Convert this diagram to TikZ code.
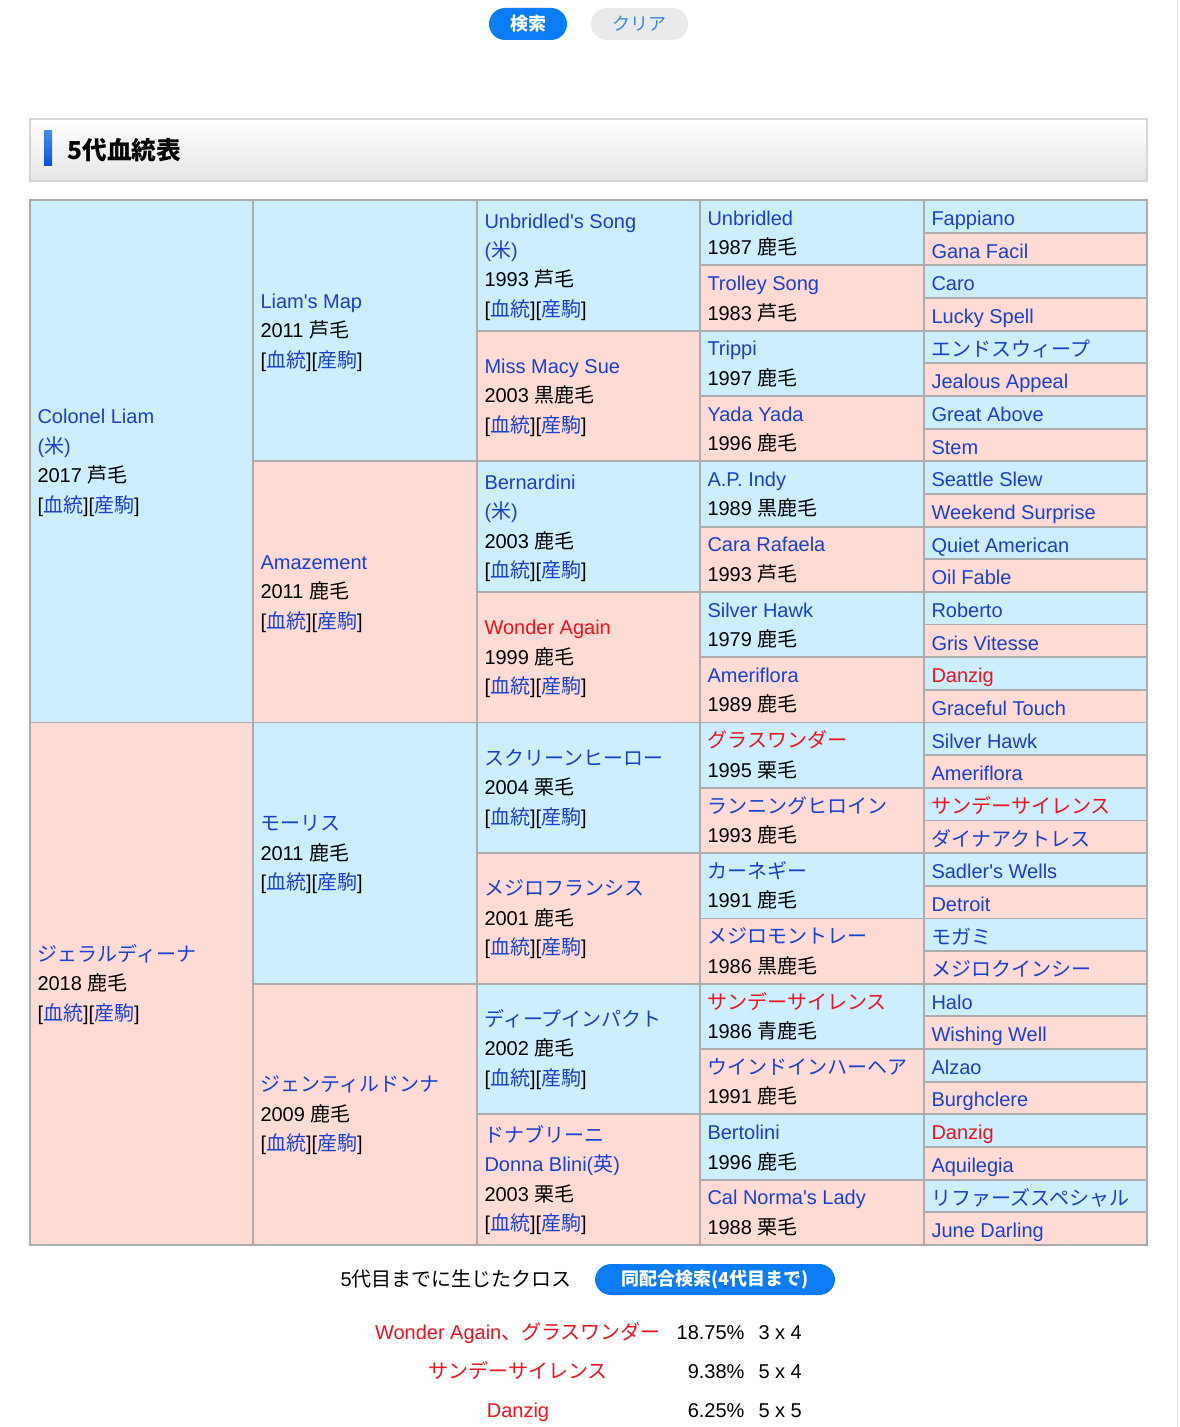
\documentclass[tikz,border=0pt]{standalone}
\usepackage{fontspec}
\setmainfont{Liberation Sans}
\newfontfamily\jpfont{Noto Sans CJK JP}

\definecolor{cellblue}{RGB}{204,238,255}
\definecolor{cellpink}{RGB}{255,219,214}
\definecolor{cellline}{RGB}{172,172,172}
\definecolor{linkblue}{RGB}{26,64,208}
\definecolor{crossred}{RGB}{240,18,28}
\definecolor{btnblue}{RGB}{12,124,246}
\definecolor{btngray}{RGB}{234,234,234}
\definecolor{btntext}{RGB}{52,136,232}
\definecolor{hdline}{RGB}{214,214,214}
\definecolor{hdgray}{RGB}{230,230,230}

\newcommand{\cstrut}{\rule[-2.5pt]{0pt}{19pt}}
\newcommand{\lstrut}{\rule[-2.5pt]{0pt}{16pt}}
\newcommand{\jp}[1]{{\jpfont #1}}
\newcommand{\bname}[1]{{\color{linkblue}#1}}
\newcommand{\rname}[1]{{\color{crossred}#1}}
\newcommand{\pedlinks}{[\bname{\jp{血統}}][\bname{\jp{産駒}}]\lstrut}
\newcommand{\apos}{\textquotesingle}

\tikzset{every picture/.style={line width=0.75pt}}
\tikzset{
  cell/.style={draw=cellline, line width=1.4pt},
  txt/.style={anchor=west, inner sep=0pt, align=left, font=\fontsize{15}{22.1}\selectfont},
  g5txt/.style={anchor=west, inner sep=0pt, text=linkblue, font=\fontsize{15}{18}\selectfont},
  crs/.style={inner sep=0pt, font=\fontsize{15}{18}\selectfont},
  pill/.style={rounded corners=12pt, inner sep=0pt, font=\jpfont\bfseries\fontsize{13.5}{16}\selectfont},
}

\begin{document}
\begin{tikzpicture}[x=0.75pt,y=0.75pt,yscale=-1,xscale=1]
\useasboundingbox (0,0) rectangle (1179,1427);
\fill [white] (0,0) rectangle (1179,1427);
\draw [color={rgb, 255:red, 234; green, 234; blue, 234 }] (1177.5,0) -- (1177.5,1427);

%Buttons
\node [pill, fill=btnblue, text=white, minimum width=58.5pt, minimum height=24pt] (search) at (528,24) {検索};
\node [pill, fill=btngray, text=btntext, minimum width=72.75pt, minimum height=24pt,
  font=\jpfont\fontsize{13.5}{16}\selectfont] (clear) at (639.5,24) {クリア};

%Shape: Heading bar
\shade [top color=white, bottom color=hdgray] (30,119) rectangle (1147,181);
\draw [hdline, line width=1.5pt] (30,119) rectangle (1147,181);
\shade [top color={rgb, 255:red, 70; green, 140; blue, 245 }, bottom color={rgb, 255:red, 10; green, 80; blue, 220 }] (44,131) rectangle (52,166);
% Text Node
\node [anchor=west, inner sep=0pt, font=\jpfont\bfseries\fontsize{18.5}{21}\selectfont] (title) at (67,150) {5代血統表};

%Shape: Pedigree cells
\foreach \n/\xa/\xb in {2/30/253, 4/253/477, 8/477/700, 16/700/924, 32/924/1147} {
  \foreach \i in {1,...,\n} {
    \pgfmathsetmacro{\ya}{200+(\i-1)*(1045/\n)}
    \pgfmathsetmacro{\yb}{200+\i*(1045/\n)}
    \ifodd\i \def\cf{cellblue}\else \def\cf{cellpink}\fi
    \draw [cell, fill=\cf] (\xa,\ya) rectangle (\xb,\yb);
  }
}

% Text Node
\node [txt] (g1-1) at (37,461.25) {\lstrut\bname{Colonel Liam}\\\bname{(\jp{米})}\\2017 \jp{芦毛}\\\pedlinks};
\node [txt] (g1-2) at (37,983.75) {\lstrut\bname{\jp{ジェラルディーナ}}\\2018 \jp{鹿毛}\\\pedlinks};

% Text Node
\node [txt] (g2-1) at (260,330.625) {\lstrut\bname{Liam\apos s Map}\\2011 \jp{芦毛}\\\pedlinks};
\node [txt] (g2-2) at (260,591.875) {\lstrut\bname{Amazement}\\2011 \jp{鹿毛}\\\pedlinks};
\node [txt] (g2-3) at (260,853.125) {\lstrut\bname{\jp{モーリス}}\\2011 \jp{鹿毛}\\\pedlinks};
\node [txt] (g2-4) at (260,1114.375) {\lstrut\bname{\jp{ジェンティルドンナ}}\\2009 \jp{鹿毛}\\\pedlinks};

% Text Node
\node [txt] (g3-1) at (484,265.31) {\lstrut\bname{Unbridled\apos s Song}\\\bname{(\jp{米})}\\1993 \jp{芦毛}\\\pedlinks};
\node [txt] (g3-2) at (484,395.94) {\lstrut\bname{Miss Macy Sue}\\2003 \jp{黒鹿毛}\\\pedlinks};
\node [txt] (g3-3) at (484,526.56) {\lstrut\bname{Bernardini}\\\bname{(\jp{米})}\\2003 \jp{鹿毛}\\\pedlinks};
\node [txt] (g3-4) at (484,657.19) {\lstrut\rname{Wonder Again}\\1999 \jp{鹿毛}\\\pedlinks};
\node [txt] (g3-5) at (484,787.81) {\lstrut\bname{\jp{スクリーンヒーロー}}\\2004 \jp{栗毛}\\\pedlinks};
\node [txt] (g3-6) at (484,918.44) {\lstrut\bname{\jp{メジロフランシス}}\\2001 \jp{鹿毛}\\\pedlinks};
\node [txt] (g3-7) at (484,1049.06) {\lstrut\bname{\jp{ディープインパクト}}\\2002 \jp{鹿毛}\\\pedlinks};
\node [txt] (g3-8) at (484,1179.69) {\lstrut\bname{\jp{ドナブリーニ}}\\\bname{Donna Blini(\jp{英})}\\2003 \jp{栗毛}\\\pedlinks};

% Text Node
\foreach \nm/\yr [count=\i] in {
  Unbridled/1987 \jp{鹿毛},
  Trolley Song/1983 \jp{芦毛},
  Trippi/1997 \jp{鹿毛},
  Yada Yada/1996 \jp{鹿毛},
  A.P. Indy/1989 \jp{黒鹿毛},
  Cara Rafaela/1993 \jp{芦毛},
  Silver Hawk/1979 \jp{鹿毛},
  Ameriflora/1989 \jp{鹿毛},
  \rname{\jp{グラスワンダー}}/1995 \jp{栗毛},
  \jp{ランニングヒロイン}/1993 \jp{鹿毛},
  \jp{カーネギー}/1991 \jp{鹿毛},
  \jp{メジロモントレー}/1986 \jp{黒鹿毛},
  \rname{\jp{サンデーサイレンス}}/1986 \jp{青鹿毛},
  \jp{ウインドインハーヘア}/1991 \jp{鹿毛},
  Bertolini/1996 \jp{鹿毛},
  Cal Norma\apos s Lady/1988 \jp{栗毛}}
  \node [txt] (g4-\i) at (707,{200+(\i-0.5)*65.3125}) {\lstrut\bname{\nm}\\\yr\lstrut};

% Text Node
\foreach \nm [count=\i] in {
  Fappiano, Gana Facil, Caro, Lucky Spell,
  \jp{エンドスウィープ}, Jealous Appeal, Great Above, Stem,
  Seattle Slew, Weekend Surprise, Quiet American, Oil Fable,
  Roberto, Gris Vitesse, \rname{Danzig}, Graceful Touch,
  Silver Hawk, Ameriflora, \rname{\jp{サンデーサイレンス}}, \jp{ダイナアクトレス},
  Sadler\apos s Wells, Detroit, \jp{モガミ}, \jp{メジロクインシー},
  Halo, Wishing Well, Alzao, Burghclere,
  \rname{Danzig}, Aquilegia, \jp{リファーズスペシャル}, June Darling}
  \node [g5txt] (g5-\i) at (931,{200+(\i-0.5)*32.65625}) {\cstrut\nm};

% Text Node
\node [crs, anchor=base west] (crosslbl) at (340,1286) {5\jp{代目までに生じたクロス}};
\node [pill, fill=btnblue, text=white, minimum width=180pt, minimum height=23.25pt] (samebtn) at (715,1279.5) {同配合検索(4代目まで)};

% Text Node
\foreach \nm/\pc/\gx [count=\i] in {
  Wonder Again\jp{、グラスワンダー}/18.75\%/3 x 4,
  \jp{サンデーサイレンス}/9.38\%/5 x 4,
  Danzig/6.25\%/5 x 5} {
  \pgfmathsetmacro{\yy}{1339+(\i-1)*39}
  \node [crs, text=crossred, anchor=base] (cross-\i) at (518,\yy) {\nm};
  \node [crs, anchor=base east] (pct-\i) at (745,\yy) {\pc};
  \node [crs, anchor=base west] (gen-\i) at (758,\yy) {\gx};
}
\end{tikzpicture}
\end{document}
